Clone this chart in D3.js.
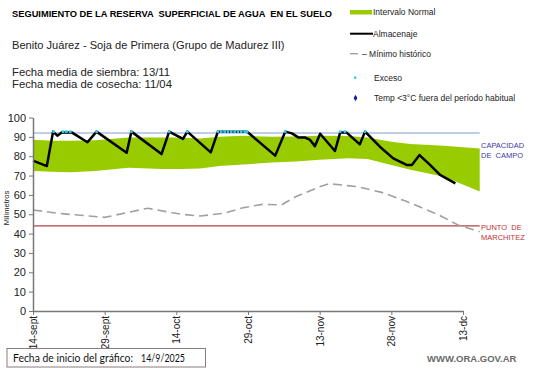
<!DOCTYPE html>
<html>
<head>
<meta charset="utf-8">
<script src="https://cdn.jsdelivr.net/npm/d3@7/dist/d3.min.js"></script>
<style>
  body { margin: 0; background: #fff; }
  svg { display: block; font-family: "Liberation Sans", Arial, sans-serif; }
</style>
</head>
<body>
<div id="chart"></div>
<script>
// days since 14/9/2025
const tickDays = [0, 15, 30, 45, 60, 75, 90];
const tickLabels = ["14-sept", "29-sept", "14-oct", "29-oct", "13-nov", "28-nov", "13-dc"];

// Intervalo normal (banda verde)
const bandDays = [0, 4, 8, 13, 20, 27, 31, 35, 39, 44, 50, 55, 60, 66, 70, 75, 79, 86, 93.5];
const bandUpper = [88.5, 88, 88, 88.3, 89.6, 89.6, 89.6, 89.2, 90, 90.6, 90, 90.2, 90.6, 90.4, 89.6, 87.5, 86.3, 85.4, 84];
const bandLower = [72.4, 72, 71.7, 72.4, 74, 73.4, 73.4, 73.7, 75, 75.7, 76.7, 77.2, 78.2, 79, 78.5, 75.5, 73, 69.4, 61.7];

// Almacenaje
const almDays = [0, 2.9, 4.2, 5.1, 6, 8.1, 11.4, 13.3, 19.6, 20.6, 26.9, 28.5, 31.4, 32.3, 37.2, 38.7, 44.8,
  50.7, 52.8, 54.2, 55.6, 57, 58, 59, 60.1, 63.2, 64.3, 65.6, 68.4, 69.5, 72.6, 75.4, 78.2, 79.3, 80.9, 83.1, 85.2, 88.4];
const almVals = [77.7, 74.9, 92.7, 90.6, 92.2, 92.3, 87.2, 92.7, 81.8, 92.7, 81.1, 92.7, 88.9, 92.7, 82, 92.7, 92.7,
  80.3, 92.7, 91.8, 89.6, 89.6, 88.4, 85.2, 91.6, 82.7, 92.3, 92.3, 86.1, 92.7, 84.9, 78.9, 75.5, 75.5, 80.6, 75.5, 70.3, 66];

// Mínimo histórico
const minDays = [0, 6, 15, 24, 31, 35, 40, 44, 48, 52, 55, 60, 62, 68, 73, 78, 85, 89, 93.5];
const minVals = [52.2, 50.3, 48.4, 53.1, 50, 49.1, 50.5, 53.4, 55.1, 54.8, 59.1, 64.2, 65.8, 64.2, 61.3, 56.8, 49.6, 44.4, 41];

// Exceso
const excesoDays = [4.3, 6.3, 7, 7.8, 13.3, 20.6, 28.5, 32.3, 38.7, 39.4, 40.1, 40.8, 41.5, 42.2, 42.9, 43.6, 44.3, 44.8, 52.8, 64.3, 65.3, 69.5];
const excesoVal = 92.7;

const capacidadCampo = 92;
const puntoMarchitez = 44;
const lineEndDay = 93.5;

const width = 541, height = 368;
const svg = d3.select("#chart").append("svg")
  .attr("width", width).attr("height", height);

const x = d3.scaleLinear().domain([0, 90]).range([33, 463]);
const y = d3.scaleLinear().domain([0, 100]).range([311, 117.5]);

// band
const band = bandDays.map((d, i) => ({ d: d, lo: bandLower[i], hi: bandUpper[i] }));
svg.append("path")
  .datum(band)
  .attr("fill", "#99cc00")
  .attr("d", d3.area().x(p => x(p.d)).y0(p => y(p.lo)).y1(p => y(p.hi)));

// reference lines
svg.append("line")
  .attr("x1", x(0)).attr("x2", x(lineEndDay))
  .attr("y1", y(capacidadCampo)).attr("y2", y(capacidadCampo))
  .attr("stroke", "#7f9fd6").attr("stroke-width", 1.2);
svg.append("line")
  .attr("x1", x(0)).attr("x2", x(lineEndDay))
  .attr("y1", y(puntoMarchitez)).attr("y2", y(puntoMarchitez))
  .attr("stroke", "#b84040").attr("stroke-width", 1.2);

// minimo historico
svg.append("path")
  .datum(minDays.map((d, i) => [d, minVals[i]]))
  .attr("fill", "none")
  .attr("stroke", "#a0a0a0")
  .attr("stroke-width", 1.6)
  .attr("stroke-dasharray", "9,5")
  .attr("d", d3.line().x(p => x(p[0])).y(p => y(p[1])));

// almacenaje
svg.append("path")
  .datum(almDays.map((d, i) => [d, almVals[i]]))
  .attr("fill", "none")
  .attr("stroke", "#000")
  .attr("stroke-width", 2.5)
  .attr("stroke-linejoin", "round")
  .attr("d", d3.line().x(p => x(p[0])).y(p => y(p[1])));

// exceso
svg.selectAll(".exc").data(excesoDays).enter().append("rect")
  .attr("x", d => x(d) - 1.3).attr("y", y(excesoVal) - 1.3)
  .attr("width", 2.6).attr("height", 2.6)
  .attr("fill", "#33ccee");

// axes
const yAxis = svg.append("g")
  .attr("transform", `translate(${x(0)},0)`)
  .call(d3.axisLeft(y).tickValues(d3.range(0, 101, 10)).tickSize(4).tickSizeOuter(0));
yAxis.select(".domain").attr("stroke", "#777").attr("stroke-width", 1.5);
yAxis.selectAll(".tick line").attr("stroke", "#777");
yAxis.selectAll("text").attr("font-size", 11).attr("fill", "#222")
  .attr("font-family", "Liberation Sans, Arial, sans-serif");

const xAxis = svg.append("g")
  .attr("transform", `translate(0,${y(0)})`)
  .call(d3.axisBottom(x).tickValues(tickDays).tickFormat((d, i) => tickLabels[i]).tickSize(4).tickSizeOuter(0));
xAxis.select(".domain").attr("stroke", "#777").attr("stroke-width", 1.5);
xAxis.selectAll(".tick line").attr("stroke", "#777");
xAxis.selectAll("text")
  .attr("font-size", 10).attr("fill", "#222")
  .attr("font-family", "Liberation Sans, Arial, sans-serif")
  .attr("transform", "rotate(-90)")
  .attr("text-anchor", "end")
  .attr("x", -5).attr("y", 0).attr("dy", "0.35em");

svg.append("text")
  .attr("transform", "translate(9,208) rotate(-90)")
  .attr("text-anchor", "middle")
  .attr("font-size", 7.5).attr("fill", "#222")
  .text("Milímetros");

// labels at right
const rightLab = (lines, yy, color) => {
  lines.forEach((t, i) => {
    svg.append("text").attr("x", 481).attr("y", yy + i * 10)
      .attr("font-size", 7.5).attr("fill", color).text(t)
      .style("white-space", "pre");
  });
};
rightLab(["CAPACIDAD", "DE  CAMPO"], 148, "#3a3aa6");
rightLab(["PUNTO  DE", "MARCHITEZ"], 230, "#c03030");

// titles
svg.append("text").attr("x", 12).attr("y", 17)
  .attr("font-size", 9.3).attr("font-weight", "bold").attr("fill", "#000")
  .text("SEGUIMIENTO DE LA RESERVA  SUPERFICIAL DE AGUA  EN EL SUELO").style("white-space", "pre");
svg.append("text").attr("x", 12).attr("y", 49)
  .attr("font-size", 11.1).attr("fill", "#222")
  .text("Benito Juárez - Soja de Primera (Grupo de Madurez III)");
svg.append("text").attr("x", 12).attr("y", 76)
  .attr("font-size", 11.3).attr("fill", "#222")
  .text("Fecha media de siembra: 13/11");
svg.append("text").attr("x", 12).attr("y", 88)
  .attr("font-size", 11.3).attr("fill", "#222")
  .text("Fecha media de cosecha: 11/04");

// legend
const lg = svg.append("g").attr("font-size", 8.5).attr("fill", "#222");
lg.append("rect").attr("x", 350).attr("y", 10).attr("width", 22).attr("height", 4.5).attr("fill", "#99cc00");
lg.append("text").attr("x", 373).attr("y", 15).text("Intervalo Normal");
lg.append("line").attr("x1", 350).attr("x2", 373).attr("y1", 33.7).attr("y2", 33.7).attr("stroke", "#000").attr("stroke-width", 2);
lg.append("text").attr("x", 373).attr("y", 37).text("Almacenaje");
lg.append("line").attr("x1", 350).attr("x2", 358).attr("y1", 53.7).attr("y2", 53.7).attr("stroke", "#a0a0a0").attr("stroke-width", 1.4);
lg.append("text").attr("x", 362).attr("y", 57).text("– Mínimo histórico");
lg.append("rect").attr("x", 354).attr("y", 76.5).attr("width", 2.4).attr("height", 2.4).attr("fill", "#33ccee");
lg.append("text").attr("x", 374).attr("y", 81).text("Exceso");
lg.append("path").attr("d", d3.symbol(d3.symbolDiamond, 12)()).attr("transform", "translate(355.5,98)").attr("fill", "#1a1a8c");
lg.append("text").attr("x", 374).attr("y", 101).text("Temp <3°C fuera del período habitual");

// fecha inicio box
svg.append("rect").attr("x", 7).attr("y", 348.5).attr("width", 198.5).attr("height", 18.5)
  .attr("fill", "#fff").attr("stroke", "#8c7c7c").attr("stroke-width", 1);
svg.append("text").attr("x", 13).attr("y", 361.5).attr("font-size", 11.5).attr("font-family", "Lato, sans-serif").attr("fill", "#111")
  .attr("textLength", 120).attr("lengthAdjust", "spacingAndGlyphs")
  .text("Fecha de inicio del gráfico:");
svg.append("text").attr("x", 141).attr("y", 361.5).attr("font-size", 11.5).attr("font-family", "Lato, sans-serif").attr("fill", "#111")
  .attr("textLength", 44).attr("lengthAdjust", "spacingAndGlyphs")
  .text("14/9/2025");

svg.append("text").attr("x", 427).attr("y", 362).attr("font-size", 9.5).attr("font-weight", "bold").attr("fill", "#6a6a6a")
  .text("WWW.ORA.GOV.AR");
</script>
</body>
</html>
